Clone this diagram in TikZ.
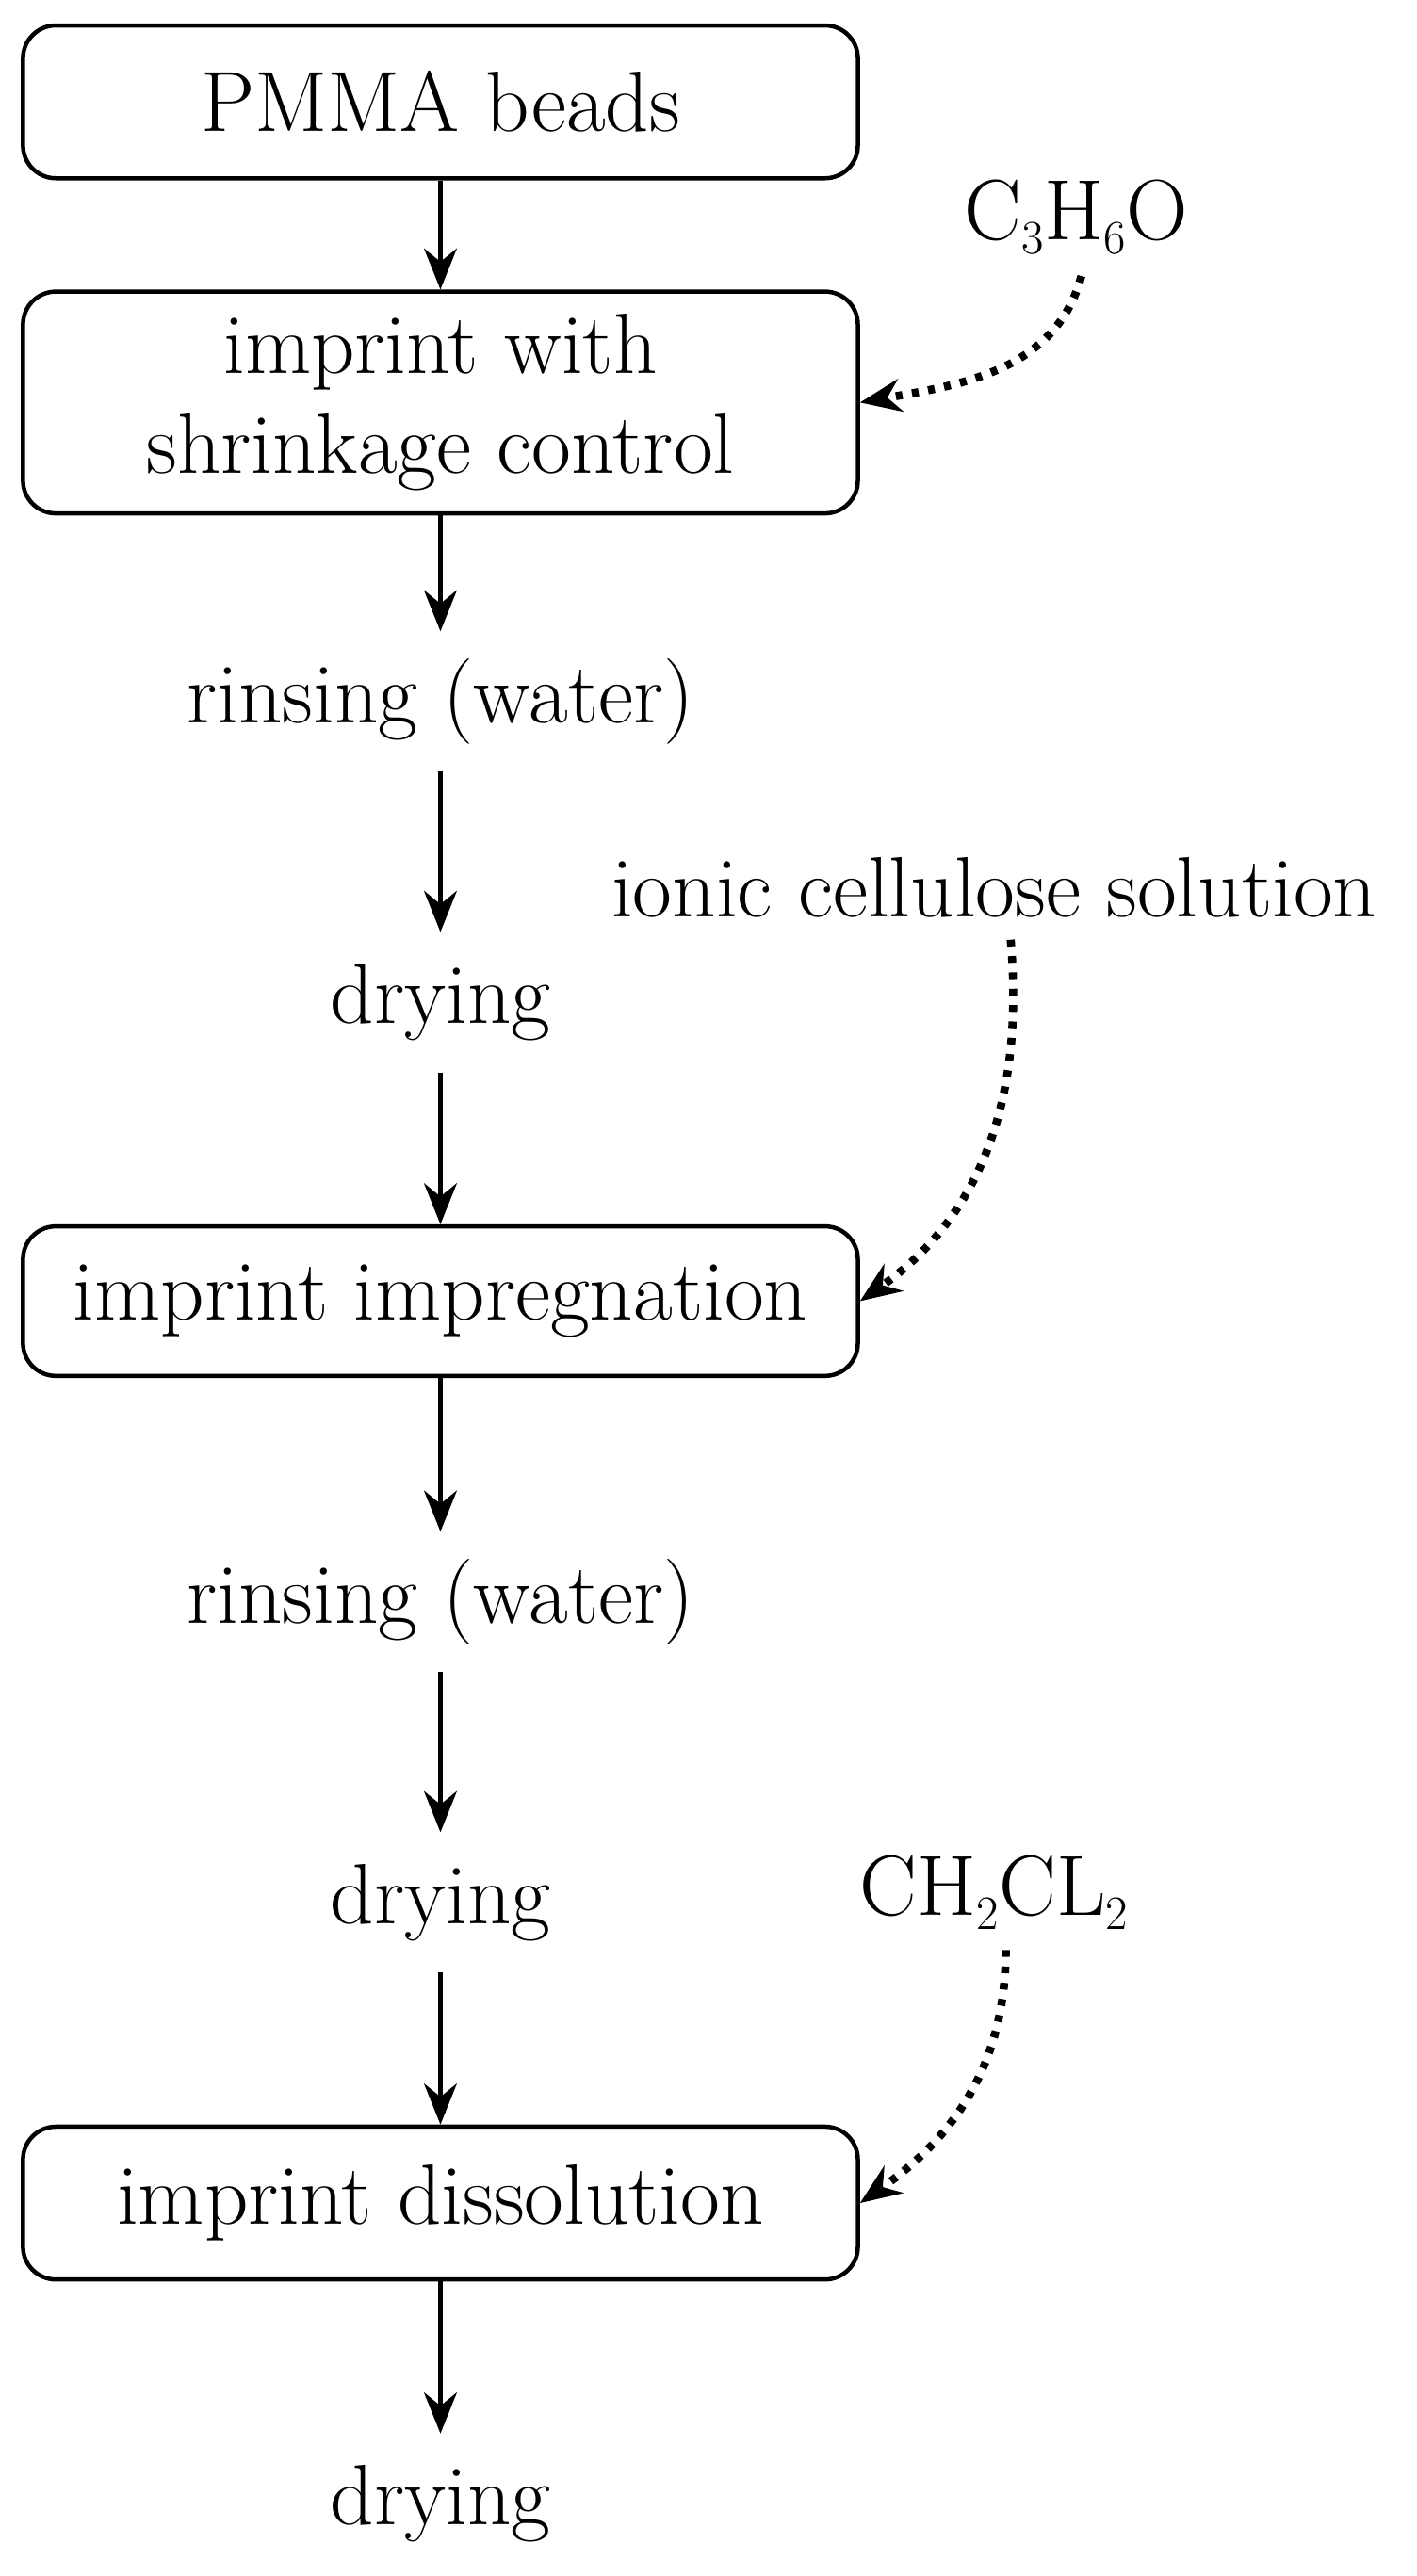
\documentclass[tikz,border=0pt]{standalone}
\usetikzlibrary{arrows.meta}
\begin{document}
\begin{tikzpicture}[x=0.03cm,y=-0.03cm,
  every node/.style={font=\fontsize{44.5}{52}\selectfont},
  box/.style={draw,line width=2.2pt,rounded corners=0.6cm,minimum width=15.24cm,align=center,inner sep=0pt},
  txt/.style={inner sep=0pt,minimum height=2.55cm},
  arr/.style={line width=2.2pt,-{Stealth[length=0.75cm,width=0.6cm]}},
  dot/.style={line width=4.2pt,dash pattern=on 3.5pt off 5pt,-{Stealth[length=0.75cm,width=0.6cm]}}]
\useasboundingbox (0,0) rectangle (862,1568);
\node[box,minimum height=2.79cm] (b1) at (268,62) {PMMA beads};
\node[box,minimum height=4.05cm] (b2) at (268,245) {imprint with\\shrinkage control};
\node[txt] (r1) at (268,427) {rinsing (water)};
\node[txt] (d1) at (268,610) {drying};
\node[box,minimum height=2.73cm] (b3) at (268,792) {imprint impregnation};
\node[txt] (r2) at (268,975) {rinsing (water)};
\node[txt] (d2) at (268,1158) {drying};
\node[box,minimum height=2.79cm] (b4) at (268,1341) {imprint dissolution};
\node[txt] (d3) at (268,1524) {drying};
\node[inner sep=0pt] (c1) at (655,132) {C$_3$H$_6$O};
\node[inner sep=0pt] (c2) at (605,540) {ionic cellulose solution};
\node[inner sep=0pt] (c3) at (605,1152) {CH$_2$CL$_2$};
\draw[arr] (b1) -- (b2);
\draw[arr] (b2) -- (r1);
\draw[arr] (r1) -- (d1);
\draw[arr] (d1) -- (b3);
\draw[arr] (b3) -- (r2);
\draw[arr] (r2) -- (d2);
\draw[arr] (d2) -- (b4);
\draw[arr] (b4) -- (d3);
\coordinate (s1) at (658,168);
\coordinate (s2) at (615,572);
\coordinate (s3) at (612,1187);
\draw[dot] (s1) to[out=-105,in=10] (b2.east);
\draw[dot] (s2) to[out=-85,in=35] (b3.east);
\draw[dot] (s3) to[out=-90,in=35] (b4.east);
\end{tikzpicture}
\end{document}
